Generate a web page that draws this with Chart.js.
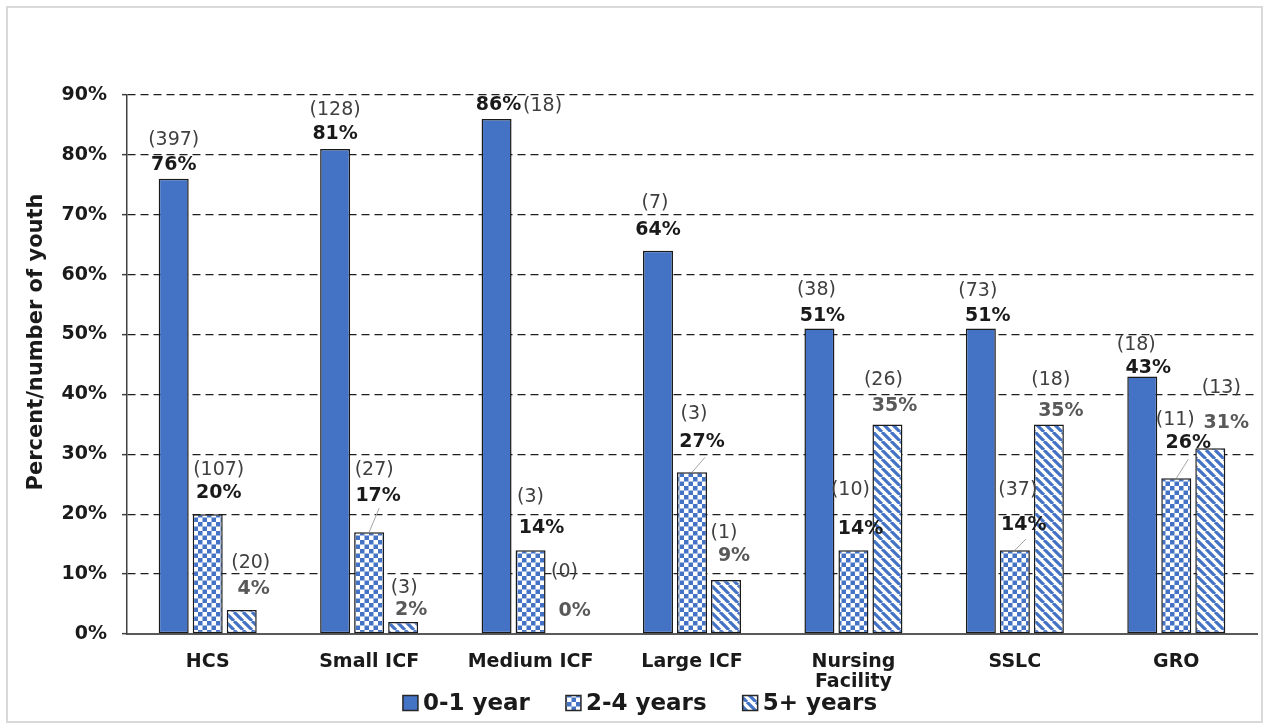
<!DOCTYPE html>
<html>
<head>
<meta charset="utf-8">
<script src="https://cdn.jsdelivr.net/npm/chart.js@4.4.1/dist/chart.umd.min.js"></script>
<style>
  html, body { margin: 0; padding: 0; background: #fff; }
  #wrap { position: relative; width: 1263px; height: 723px; }
</style>
</head>
<body>
<div id="wrap"><canvas id="chart"></canvas></div>
<script>
// ---- Data ----
const categories = ['HCS', 'Small ICF', 'Medium ICF', 'Large ICF', ['Nursing', 'Facility'], 'SSLC', 'GRO'];
const seriesNames = ['0-1 year', '2-4 years', '5+ years'];

// percent of youth per setting
const pctYear0to1 = [76, 81, 86, 64, 51, 51, 43];
const pctYears2to4 = [20, 17, 14, 27, 14, 14, 26];
const pctYears5plus = [4, 2, 0, 9, 35, 35, 31];

// number of youth per setting
const countYear0to1 = [397, 128, 18, 7, 38, 73, 18];
const countYears2to4 = [107, 27, 3, 3, 10, 37, 11];
const countYears5plus = [20, 3, 0, 1, 26, 18, 13];

const yTickLabels = ['0%', '10%', '20%', '30%', '40%', '50%', '60%', '70%', '80%', '90%'];

// ---- Label placement: [countDx, countDy, pctDx, pctDy, leaderDx, leaderDy] from bar top centre ----
const LABEL_NUDGE = [
  [[0,-39,0,-14],[0,-39,0,-15],[46,-13,2,-14],[-3,-48,0,-21],[-3,-39,3,-13],[-3,-38,7,-13],[-6,-31,6,-8]],
  [[11,-44,11,-21],[5,-62,9,-36,10,-24],[0,-53,11,-22],[2,-58,10,-30,13,-15],[-3,-60,7,-21],[3,-60,9,-25,11,-11],[-1,-58,12,-35,12,-19]],
  [[9,-47,12,-21],[1,-34,8,-12],[0,-62,10,-23],[-2,-47,8,-24],[-4,-44,7,-18],[2,-44,12,-13],[11,-60,16,-25]]
];

const BLUE = '#4472C4';
const FONT = '"DejaVu Sans", Verdana, sans-serif';

// ---- Fill patterns ----
function checkerPattern(color) {
  const t = document.createElement('canvas');
  t.width = 9; t.height = 9;
  const g = t.getContext('2d');
  g.fillStyle = '#fff'; g.fillRect(0, 0, 9, 9);
  g.fillStyle = color;
  g.fillRect(0, 0, 4.5, 4.5);
  g.fillRect(4.5, 4.5, 4.5, 4.5);
  return g.createPattern(t, 'repeat');
}
function stripePattern(color) {
  const t = document.createElement('canvas');
  t.width = 9; t.height = 9;
  const g = t.getContext('2d');
  g.fillStyle = '#fff'; g.fillRect(0, 0, 9, 9);
  g.strokeStyle = color; g.lineWidth = 3.2;
  g.beginPath();
  for (const o of [-9, 0, 9]) { g.moveTo(o, 0); g.lineTo(o + 9, 9); }
  g.stroke();
  return g.createPattern(t, 'repeat');
}
const fills = [BLUE, checkerPattern(BLUE), stripePattern(BLUE)];
const pctSeries = [pctYear0to1, pctYears2to4, pctYears5plus];
const countSeries = [countYear0to1, countYears2to4, countYears5plus];

// ---- Plugins ----
const frame = {
  id: 'frame',
  beforeDraw(chart) {
    const ctx = chart.ctx;
    ctx.save();
    ctx.fillStyle = '#fff';
    ctx.fillRect(0, 0, chart.width, chart.height);
    ctx.strokeStyle = '#d9d9d9';
    ctx.lineWidth = 2;
    ctx.strokeRect(7, 7, chart.width - 8, chart.height - 8);
    ctx.restore();
  },
  afterDraw(chart) {
    const ctx = chart.ctx;
    // y axis title
    ctx.save();
    ctx.translate(37, 342);
    ctx.rotate(-Math.PI / 2);
    ctx.font = 'bold 21px ' + FONT;
    ctx.fillStyle = '#1a1a1a';
    ctx.textAlign = 'center';
    ctx.textBaseline = 'middle';
    ctx.fillText('Percent/number of youth', 0, 0);
    ctx.restore();

    // legend
    ctx.save();
    ctx.font = 'bold 23px ' + FONT;
    ctx.textBaseline = 'middle';
    const box = 15, gap = 5, itemGap = 36, cy = 703;
    const widths = seriesNames.map(s => ctx.measureText(s).width);
    const total = widths.reduce((a, w) => a + box + gap + w, 0) + itemGap * (seriesNames.length - 1);
    let x = 640 - total / 2;
    seriesNames.forEach((name, i) => {
      ctx.fillStyle = fills[i];
      ctx.fillRect(x, cy - box / 2, box, box);
      ctx.strokeStyle = '#262626';
      ctx.lineWidth = 1.5;
      ctx.strokeRect(x, cy - box / 2, box, box);
      ctx.fillStyle = '#1a1a1a';
      ctx.textAlign = 'left';
      ctx.fillText(name, x + box + gap, cy + 1);
      x += box + gap + widths[i] + itemGap;
    });
    ctx.restore();
  }
};

const barLabels = {
  id: 'barLabels',
  afterDatasetsDraw(chart) {
    const ctx = chart.ctx;
    ctx.save();
    ctx.textAlign = 'center';
    ctx.textBaseline = 'middle';
    chart.data.datasets.forEach((ds, di) => {
      chart.getDatasetMeta(di).data.forEach((bar, i) => {
        const [cdx, cdy, pdx, pdy, lx, ly] = LABEL_NUDGE[di][i];
        const x = bar.x, y = bar.y;
        if (lx !== undefined) {
          ctx.strokeStyle = '#a6a6a6';
          ctx.lineWidth = 1;
          ctx.beginPath();
          ctx.moveTo(x + lx, y + ly);
          ctx.lineTo(x, y);
          ctx.stroke();
        }
        ctx.font = '19px ' + FONT;
        ctx.fillStyle = '#404040';
        ctx.fillText('(' + countSeries[di][i] + ')', x + cdx, y + cdy);
        ctx.font = 'bold 19px ' + FONT;
        ctx.fillStyle = di === 2 ? '#595959' : '#1a1a1a';
        ctx.fillText(pctSeries[di][i] + '%', x + pdx, y + pdy);
      });
    });
    ctx.restore();
  }
};

// ---- Chart ----
new Chart(document.getElementById('chart'), {
  type: 'bar',
  data: {
    labels: categories,
    datasets: seriesNames.map((name, i) => ({
      label: name,
      data: pctSeries[i],
      backgroundColor: fills[i],
      borderColor: '#1a1a1a',
      borderWidth: c => (c.raw === 0 ? 0 : 1.5),
      borderSkipped: false,
      categoryPercentage: 0.632,
      barPercentage: 0.882
    }))
  },
  options: {
    responsive: true,
    maintainAspectRatio: false,
    animation: false,
    devicePixelRatio: 1,
    layout: { padding: { left: 0, top: 95, right: 6, bottom: 0 } },
    plugins: { legend: { display: false }, tooltip: { enabled: false } },
    scales: {
      x: {
        grid: { display: false, drawTicks: false },
        border: { display: true, color: '#595959', width: 2 },
        ticks: {
          font: { family: FONT, size: 19, weight: 'bold', lineHeight: 1.05 },
          color: '#1a1a1a',
          padding: 18,
          maxRotation: 0,
          autoSkip: false
        },
        afterFit(s) { s.height = 89; }
      },
      y: {
        min: 0,
        max: 90,
        grid: {
          color: '#1f1f1f',
          lineWidth: 1.3,
          tickLength: 5,
          tickColor: '#404040',
          tickBorderDash: [],
          tickWidth: 1.5
        },
        border: { display: true, color: '#404040', width: 1.5, dash: [8, 5] },
        ticks: {
          stepSize: 10,
          font: { family: FONT, size: 19, weight: 'bold' },
          color: '#1a1a1a',
          padding: 15,
          callback: (v) => yTickLabels[Math.round(v / 10)]
        },
        afterFit(s) { s.width = 127; }
      }
    }
  },
  plugins: [frame, barLabels]
});
</script>
</body>
</html>
